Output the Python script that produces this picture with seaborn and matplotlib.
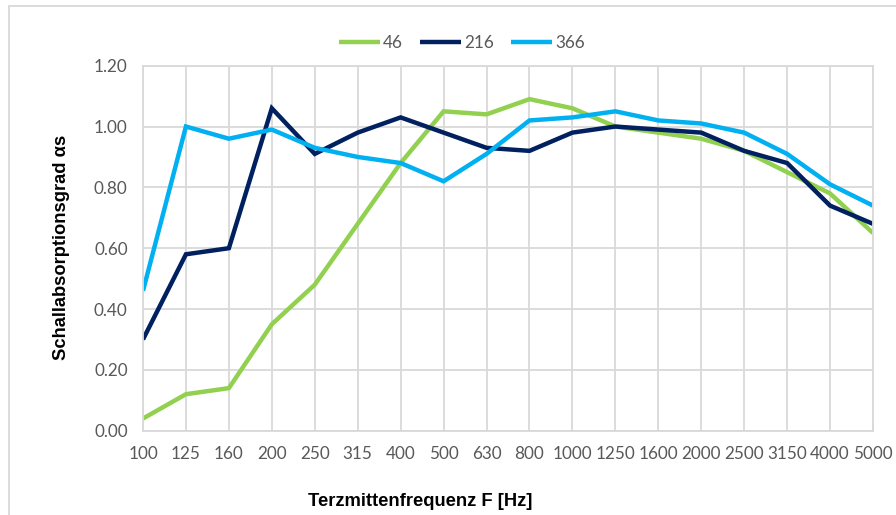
import matplotlib
matplotlib.use("Agg")
import matplotlib.pyplot as plt
from matplotlib.patches import Rectangle
import seaborn as sns
import pandas as pd

freqs = ["100", "125", "160", "200", "250", "315", "400", "500", "630", "800",
         "1000", "1250", "1600", "2000", "2500", "3150", "4000", "5000"]
s46 = [0.04, 0.12, 0.14, 0.35, 0.48, 0.68, 0.88, 1.05, 1.04, 1.09,
       1.06, 1.00, 0.98, 0.96, 0.92, 0.85, 0.78, 0.65]
s216 = [0.30, 0.58, 0.60, 1.06, 0.91, 0.98, 1.03, 0.98, 0.93, 0.92,
        0.98, 1.00, 0.99, 0.98, 0.92, 0.88, 0.74, 0.68]
s366 = [0.46, 1.00, 0.96, 0.99, 0.93, 0.90, 0.88, 0.82, 0.91, 1.02,
        1.03, 1.05, 1.02, 1.01, 0.98, 0.91, 0.81, 0.74]
series_names = ["46", "216", "366"]
colors = ["#92D050", "#002060", "#00B0F0"]
yticks = [0.0, 0.2, 0.4, 0.6, 0.8, 1.0, 1.2]

rows = []
for name, vals in zip(series_names, [s46, s216, s366]):
    for i, (f, v) in enumerate(zip(freqs, vals)):
        rows.append({"pos": i, "freq": f, "value": v, "series": name})
df = pd.DataFrame(rows)

sns.set_theme(style="white")
plt.rcParams["font.family"] = ["Lato", "DejaVu Sans"]

fig = plt.figure(figsize=(8.96, 5.15), dpi=100)
ax = fig.add_axes([143/896, 1 - 430.7/515, (873-143)/896, (430.7-65.7)/515])

sns.lineplot(data=df, x="pos", y="value", hue="series", hue_order=series_names,
             palette=colors, linewidth=3.2, ax=ax, legend=True,
             solid_capstyle="butt", solid_joinstyle="miter")

ax.set_xlim(0, len(freqs) - 1)
ax.set_ylim(0, 1.2)
ax.set_xticks(range(len(freqs)))
ax.set_xticklabels(freqs)
ax.set_yticks(yticks)
ax.set_yticklabels([f"{t:.2f}" for t in yticks])
ax.grid(True, color="#D9D9D9", linewidth=1.3)
ax.set_axisbelow(True)
for sp in ax.spines.values():
    sp.set_color("#D9D9D9")
    sp.set_linewidth(1.3)
ax.tick_params(axis="both", length=0, labelsize=12.3, labelcolor="#595959")
ax.tick_params(axis="y", pad=11)
ax.tick_params(axis="x", pad=11)
ax.set_xlabel("")
ax.set_ylabel("")

fig.text(62/896, 1 - 247/515, "Schallabsorptionsgrad αs", rotation=90,
         ha="center", va="center", fontsize=13.2, fontweight="bold",
         family=["Liberation Sans", "DejaVu Sans"], color="black")
fig.text(420/896, 1 - 501/515, "Terzmittenfrequenz F [Hz]",
         ha="center", va="center", fontsize=13.2, fontweight="bold",
         family=["Liberation Sans", "DejaVu Sans"], color="black")

handles, labels = ax.get_legend_handles_labels()
leg = ax.legend(handles, labels, loc="center", bbox_to_anchor=(462/896, 1 - 43/515),
                bbox_transform=fig.transFigure, ncol=3, frameon=False,
                fontsize=12.3, handlelength=2.4, handletextpad=0.2,
                columnspacing=1.0, borderpad=0)
for t in leg.get_texts():
    t.set_color("#595959")
for h in leg.get_lines():
    h.set_linewidth(3.2)

fig.patches.append(Rectangle((9/896, -0.1), 1.2, 1 - 6/515 + 0.1,
                             transform=fig.transFigure, fill=False,
                             edgecolor="#D9D9D9", linewidth=1.3))

fig.savefig("out.png", dpi=100)
